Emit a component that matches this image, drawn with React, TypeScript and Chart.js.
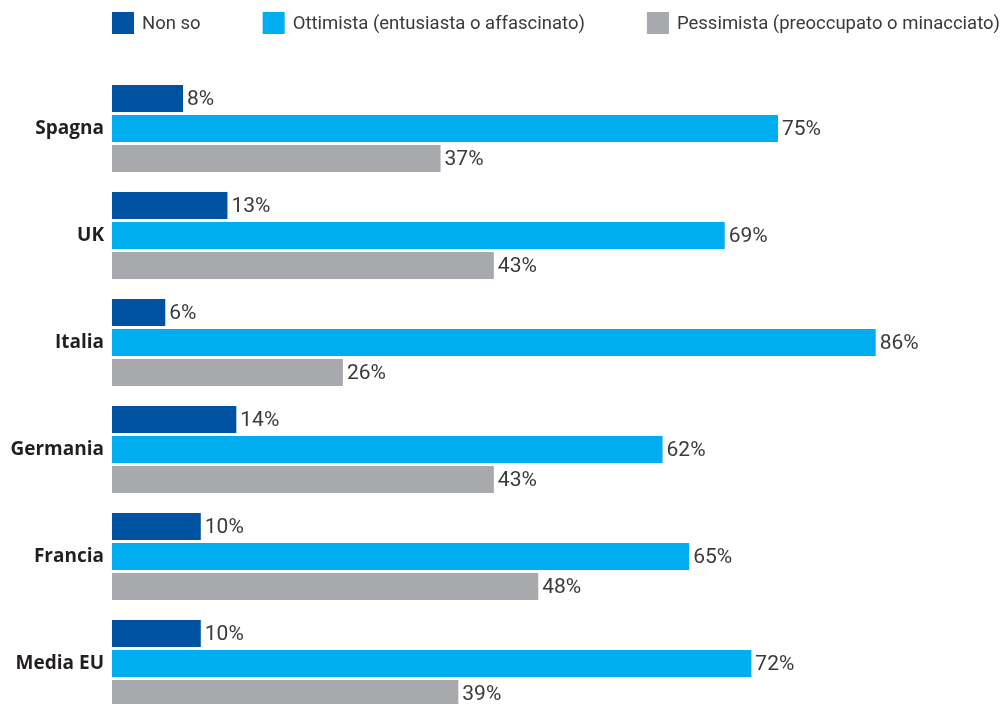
import React, { useEffect, useRef } from "react";
import { Chart, registerables } from "chart.js";

Chart.register(...registerables);

const categories = ["Spagna", "UK", "Italia", "Germania", "Francia", "Media EU"];
const seriesNames = ["Non so", "Ottimista (entusiasta o affascinato)", "Pessimista (preoccupato o minacciato)"];
const nonSo = [8, 13, 6, 14, 10, 10];
const ottimista = [75, 69, 86, 62, 65, 72];
const pessimista = [37, 43, 26, 43, 48, 39];
const seriesColors = ["#0053a0", "#00aeef", "#a7a9ac"];

const legendPlugin = {
  id: "topLegend",
  afterDraw(chart: any) {
    const ctx = chart.ctx;
    const left = chart.chartArea.left;
    let x = left;
    const yMid = 23;
    const box = 22;
    ctx.save();
    ctx.font = "18.5px Roboto";
    ctx.textBaseline = "middle";
    ctx.textAlign = "left";
    chart.data.datasets.forEach((ds: any) => {
      ctx.fillStyle = ds.backgroundColor;
      ctx.fillRect(x, yMid - box / 2, box, box);
      ctx.fillStyle = "#3a3a3a";
      const tx = x + box + 8;
      ctx.fillText(ds.label, tx, yMid + 1);
      x = tx + ctx.measureText(ds.label).width + 62;
    });
    ctx.restore();
  },
};

const valueLabelPlugin = {
  id: "valueLabels",
  afterDatasetsDraw(chart: any) {
    const ctx = chart.ctx;
    ctx.save();
    ctx.font = "21px Roboto";
    ctx.textBaseline = "middle";
    ctx.textAlign = "left";
    ctx.fillStyle = "#3a3a3a";
    chart.data.datasets.forEach((ds: any, di: number) => {
      const meta = chart.getDatasetMeta(di);
      meta.data.forEach((el: any, i: number) => {
        ctx.fillText(ds.data[i] + "%", el.x + 4, el.y + 1);
      });
    });
    ctx.restore();
  },
};

export default function App() {
  const ref = useRef<HTMLCanvasElement | null>(null);
  useEffect(() => {
    if (!ref.current) return;
    const data = [nonSo, ottimista, pessimista];
    const chart = new Chart(ref.current, {
      type: "bar",
      data: {
        labels: categories,
        datasets: seriesNames.map((name, i) => ({
          label: name,
          data: data[i],
          backgroundColor: seriesColors[i],
          borderWidth: 0,
          categoryPercentage: 90 / 107,
          barPercentage: 0.9,
        })),
      },
      options: {
        indexAxis: "y",
        responsive: false,
        animation: false,
        devicePixelRatio: 1,
        layout: { padding: { top: 75, bottom: 3, left: 0, right: 2 } },
        plugins: { legend: { display: false }, tooltip: { enabled: false } },
        scales: {
          x: { display: false, min: 0, max: 100 },
          y: {
            grid: { display: false, drawTicks: false },
            border: { display: false },
            ticks: {
              padding: 8,
              color: "#231f20",
              font: { family: "'Open Sans'", size: 19, weight: "bold" },
            },
            afterFit: (scale: any) => {
              scale.width = 112;
              scale.paddingTop = 0;
              scale.paddingBottom = 0;
            },
          },
        },
      } as any,
      plugins: [legendPlugin, valueLabelPlugin],
    });
    return () => chart.destroy();
  }, []);
  return (
    <div style={{ position: "fixed", left: 0, top: 0, width: 1002, height: 704, overflow: "hidden", background: "#fff" }}>
      <div style={{ position: "relative", width: 1002, height: 720 }}>
        <canvas ref={ref} width={1002} height={720} style={{ display: "block", width: 1002, height: 720 }} />
      </div>
    </div>
  );
}
